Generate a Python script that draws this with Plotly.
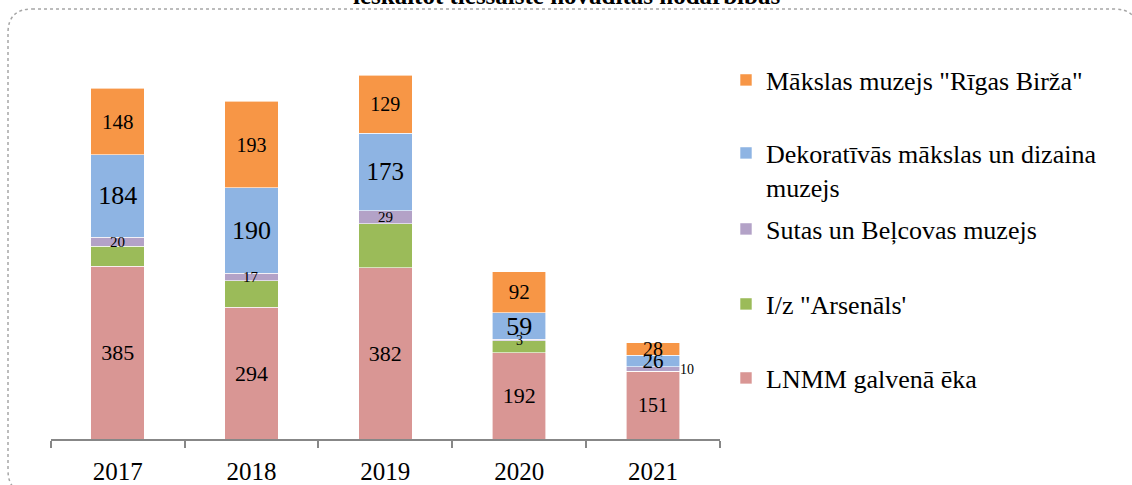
import plotly.graph_objects as go

years = ["2017", "2018", "2019", "2020", "2021"]
lnmm = [385, 294, 382, 192, 151]
arsenals = [45, 59, 98, 27, 0]
sutas = [20, 17, 29, 3, 10]
dekor = [184, 190, 173, 59, 26]
birza = [148, 193, 129, 92, 28]

names = {
    "lnmm": "LNMM galvenā ēka",
    "ars": "I/z \"Arsenāls'",
    "sutas": "Sutas un Beļcovas muzejs",
    "dekor": "Dekoratīvās mākslas un dizaina<br>muzejs",
    "birza": "Mākslas muzejs \"Rīgas Birža\"",
}
title_line = "ieskaitot tiešsaistē novadītās nodarbības"

W, H = 1132, 485
FONT = "Liberation Serif, Times New Roman, serif"

colors = {
    "lnmm": "#D99694",
    "ars": "#9BBB59",
    "sutas": "#B3A2C7",
    "dekor": "#8EB4E3",
    "birza": "#F79646",
}

fig = go.Figure()

def add(key, vals, texts, sizes, legend):
    fig.add_trace(go.Bar(
        x=years, y=vals, name=names[key],
        marker=dict(color=colors[key], line=dict(color="white", width=0.6)),
        text=texts, textposition="inside", insidetextanchor="middle",
        textangle=0, constraintext="none",
        textfont=dict(family=FONT, color="black", size=sizes),
        legend=legend, cliponaxis=False,
    ))

add("lnmm", lnmm, [str(v) for v in lnmm], [22, 22, 22, 22, 20], "legend5")
add("ars", arsenals, ["" for v in arsenals], [14] * 5, "legend4")
add("sutas", sutas, ["" for v in sutas], [14] * 5, "legend3")
add("dekor", dekor, [str(v) for v in dekor], [26, 26, 25, 26, 21], "legend2")
add("birza", birza, [str(v) for v in birza], [21, 20, 20, 21, 20], "legend")

# labels for the thin purple segments (placed through the data axes)
sutas_sizes = [15, 15, 15, 14, 14]
for i, yr in enumerate(years):
    base = lnmm[i] + arsenals[i]
    outside = i == len(years) - 1
    fig.add_annotation(
        x=i, y=base + sutas[i] / 2, xref="x", yref="y",
        text=str(sutas[i]), showarrow=False,
        xshift=34 if outside else 0,
        font=dict(family=FONT, size=sutas_sizes[i], color="black"),
    )

# cut-off title line
fig.add_annotation(
    x=0.5, y=1 - 11 / H, xref="paper", yref="paper", xanchor="center", yanchor="bottom",
    text="<b>" + title_line + "</b>", showarrow=False,
    font=dict(family=FONT, size=25, color="black"),
)

def px(x):
    return x / W

def py(y):
    return 1 - y / H

# dotted rounded frame
x0, y0, x1, y1, r = 8, 9, 1138, 494, 24
path = (
    f"M{px(x0 + r)},{py(y0)} L{px(x1 - r)},{py(y0)} Q{px(x1)},{py(y0)} {px(x1)},{py(y0 + r)} "
    f"L{px(x1)},{py(y1 - r)} Q{px(x1)},{py(y1)} {px(x1 - r)},{py(y1)} "
    f"L{px(x0 + r)},{py(y1)} Q{px(x0)},{py(y1)} {px(x0)},{py(y1 - r)} "
    f"L{px(x0)},{py(y0 + r)} Q{px(x0)},{py(y0)} {px(x0 + r)},{py(y0)} Z"
)
fig.add_shape(type="path", path=path, xref="paper", yref="paper",
              line=dict(color="#A6A6A6", width=1.5, dash="dot"), layer="above")

leg_common = dict(font=dict(family=FONT, size=26, color="black"),
                  bgcolor="rgba(0,0,0,0)", xanchor="left", yanchor="middle",
                  valign="top", itemclick=False, itemdoubleclick=False)
legend_x = px(726)
fig.update_layout(
    legend=dict(x=legend_x, y=py(80), **leg_common),
    legend2=dict(x=legend_x, y=py(170), **leg_common),
    legend3=dict(x=legend_x, y=py(229), **leg_common),
    legend4=dict(x=legend_x, y=py(304), **leg_common),
    legend5=dict(x=legend_x, y=py(378), **leg_common),
)

fig.update_layout(
    barmode="stack", bargap=0.6,
    width=W, height=H, autosize=False,
    margin=dict(l=0, r=0, t=0, b=0),
    paper_bgcolor="white", plot_bgcolor="white",
    font=dict(family=FONT, color="black"),
    showlegend=True,
    xaxis=dict(
        domain=[50.7 / W, 720 / W], type="category", range=[-0.5, 4.5],
        showline=True, linecolor="#878787", linewidth=1.5,
        ticks="outside", tickson="boundaries", ticklen=7,
        tickcolor="#878787", tickwidth=1.5,
        tickfont=dict(family=FONT, size=25, color="black"),
        ticklabelstandoff=9, showgrid=False, zeroline=False,
    ),
    yaxis=dict(
        domain=[46 / H, 1 - 35.4 / H], range=[0, 900],
        showticklabels=False, showgrid=False, zeroline=False, showline=False,
        ticks="",
    ),
)

fig.write_html("out.html", config={"displayModeBar": False},
               post_script="document.body.style.margin='0';")
